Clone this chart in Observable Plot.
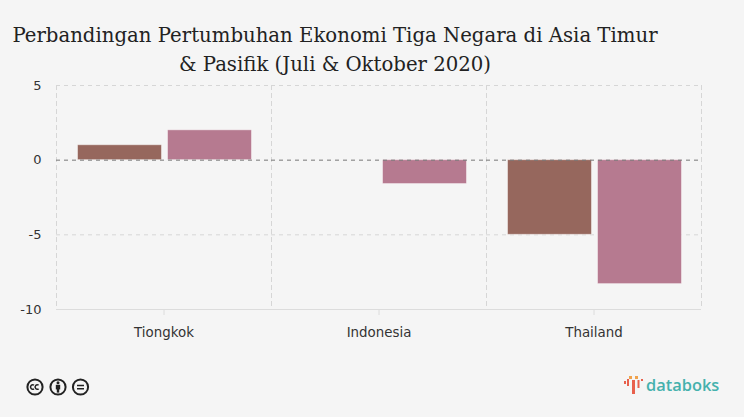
<!DOCTYPE html>
<html><head><meta charset="utf-8">
<script src="https://cdn.jsdelivr.net/npm/d3@7"></script>
<script src="https://cdn.jsdelivr.net/npm/@observablehq/plot@0.6"></script>
<style>
html,body{margin:0;padding:0;background:#f5f5f5;}
#wrap{position:relative;width:744px;height:417px;overflow:hidden;background:#f5f5f5;}
#title{position:absolute;left:0;top:22px;width:670px;text-align:center;font-family:"DejaVu Serif";font-size:19.7px;line-height:28.5px;color:#222;white-space:nowrap;}
#chart{position:absolute;left:0;top:70px;}
#chart svg{display:block;background:transparent;}
#cc{position:absolute;left:26px;top:378px;}
#logo{position:absolute;left:623px;top:374px;display:flex;align-items:center;}
#logo span{font-family:"Open Sans";font-weight:600;font-size:16.4px;color:#45b1ad;margin-left:3px;line-height:22px;}
</style></head><body>
<div id="wrap">
<div id="title">Perbandingan Pertumbuhan Ekonomi Tiga Negara di Asia Timur<br>&amp; Pasifik (Juli &amp; Oktober 2020)</div>
<div id="chart"></div>
<svg id="cc" width="66" height="18" viewBox="0 0 66 18">
 <g fill="none" stroke="#222" stroke-width="2">
  <circle cx="9" cy="9" r="7.6"/><circle cx="32" cy="9" r="7.6"/><circle cx="54.5" cy="9" r="7.6"/>
  <path d="M8 7.2a2.2 2.2 0 1 0 0 3.6M12.6 7.2a2.2 2.2 0 1 0 0 3.6" stroke-width="1.5"/>
  <path d="M51 7.5h7M51 10.7h7" stroke-width="1.6"/>
 </g>
 <g fill="#222"><circle cx="32" cy="4.8" r="1.5"/><rect x="29.8" y="6.8" width="4.4" height="4.6"/><rect x="30.8" y="10" width="2.4" height="4.6"/></g>
</svg>
<div id="logo">
<svg width="20" height="20" viewBox="0 0 20 20">
 <g fill="#f0a24c"><rect x="6" y="1" width="3" height="3"/><rect x="12" y="1" width="3" height="3"/></g>
 <g fill="#e8604c"><rect x="1" y="6" width="2" height="3"/><rect x="4" y="4" width="2" height="7"/><rect x="9" y="5" width="3" height="14"/><rect x="14.5" y="5" width="2" height="8"/><rect x="18" y="4" width="2" height="2"/></g>
</svg>
<span>databoks</span>
</div>
</div>
<script>
const categories = ["Tiongkok", "Indonesia", "Thailand"];
const series = ["Juli", "Oktober"];
const juli = [1, null, -5];
const oktober = [2, -1.6, -8.3];
const yTicks = [5, 0, -5, -10];
const seriesColors = ["#96675d", "#b67a90"];

const rows = categories.flatMap((c, i) => [
  {negara: c, bulan: series[0], nilai: juli[i]},
  {negara: c, bulan: series[1], nilai: oktober[i]}
]).filter(d => d.nilai != null);

const dash = "4,4";
const grid = "#d6d6d6";
const plot = Plot.plot({
  width: 744, height: 270,
  marginLeft: 54.5, marginRight: 42, marginTop: 15, marginBottom: 31,
  style: {background: "transparent", fontFamily: "'DejaVu Sans'", fontSize: "12px", color: "#333"},
  fx: {domain: categories, padding: 0, label: null},
  x: {domain: series, paddingInner: 0.0718, paddingOuter: 0.2255, align: 0.52, axis: null, label: null},
  y: {domain: [-10, 5], label: null},
  color: {domain: series, range: seriesColors},
  marks: [
    Plot.ruleY(yTicks.filter(v => v !== 0 && v !== -10), {stroke: grid, strokeDasharray: dash}),
    Plot.frame({anchor: "left", stroke: grid, strokeDasharray: dash, strokeOpacity: 1}),
    Plot.frame({anchor: "right", stroke: grid, strokeDasharray: dash, strokeOpacity: 1}),
    Plot.barY(rows, {fx: "negara", x: "bulan", y: "nilai", fill: "bulan", stroke: "#ffffff", strokeOpacity: 0.45, strokeWidth: 1}),
    Plot.ruleY([0], {stroke: "#777", strokeDasharray: dash}),
    Plot.ruleY([-10], {stroke: "#dcdcdc", strokeWidth: 1.2}),
    Plot.axisY({ticks: yTicks, tickSize: 0, tickPadding: 15, tickFormat: d => String(d), label: null, fontSize: 13, fill: "#333"}),
    Plot.axisFx({anchor: "bottom", domain: categories, tickSize: 6, tickPadding: 12, label: null, stroke: "#dcdcdc", fontSize: 13.4, letterSpacing: 0.4, fill: "#333"})
  ]
});
document.getElementById("chart").appendChild(plot);
</script>
</body></html>
